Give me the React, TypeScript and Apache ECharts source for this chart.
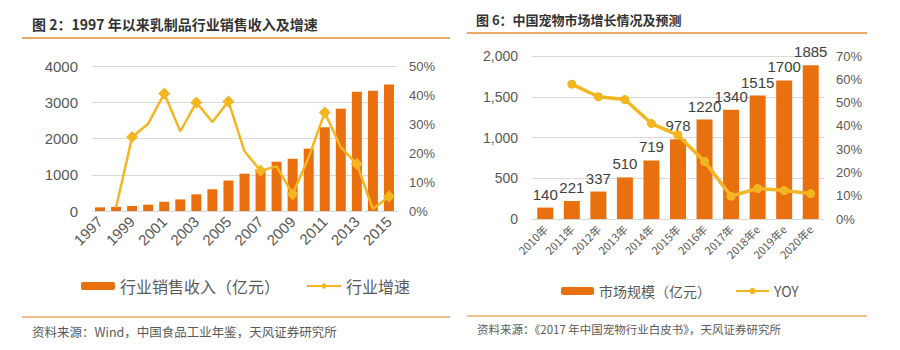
import React, { useEffect, useRef } from "react";
import * as echarts from "echarts";

const leftTitle = "图 2：1997 年以来乳制品行业销售收入及增速";
const rightTitle = "图 6：中国宠物市场增长情况及预测";
const leftSource = "资料来源：Wind，中国食品工业年鉴，天风证券研究所";
const rightSource = "资料来源：《2017 年中国宠物行业白皮书》，天风证券研究所";

const dairyYears = ["1997","1998","1999","2000","2001","2002","2003","2004","2005","2006","2007","2008","2009","2010","2011","2012","2013","2014","2015"];
const dairyRevenue = [100,115,135,175,255,320,460,600,840,1030,1150,1360,1440,1720,2310,2820,3290,3320,3490];
const dairyGrowth: (number | string)[] = ["-",1.2,25.5,30.1,40.5,27.5,37.4,30.7,37.8,20.6,13.9,15.4,5.8,18.5,34.0,22.0,16.2,0.7,5.0];

const petYears = ["2010年","2011年","2012年","2013年","2014年","2015年","2016年","2017年","2018年e","2019年e","2020年e"];
const petMarket = [140,221,337,510,719,978,1220,1340,1515,1700,1885];
const petYoy: (number | string)[] = ["-",57.9,52.5,51.3,41.0,36.0,24.7,9.8,13.1,12.2,10.9];

const FONT = "'Liberation Sans', 'Noto Sans CJK SC', sans-serif";
const CJK = "'Noto Sans CJK SC', sans-serif";
const GRAY = "#595959";
const BAR = "#E8700F";
const LINE = "#F4B523";
const RULE = "#EBA765";

export default function App() {
  const ref = useRef<HTMLDivElement>(null);
  useEffect(() => {
    if (!ref.current) return;
    const chart = echarts.init(ref.current, undefined, { renderer: "svg" });
    const axisLabel = { color: GRAY, fontSize: 14, fontFamily: FONT };
    chart.setOption({
      animation: false,
      backgroundColor: "#ffffff",
      textStyle: { fontFamily: FONT },
      grid: [
        { left: 92, width: 305, top: 66, height: 145 },
        { left: 532, width: 292, top: 56, height: 163 },
      ],
      xAxis: [
        {
          gridIndex: 0, type: "category", data: dairyYears,
          axisTick: { show: false },
          axisLine: { lineStyle: { color: "#D9D9D9" } },
          axisLabel: { ...axisLabel, fontSize: 15, rotate: 45, interval: 1, margin: 8 },
        },
        {
          gridIndex: 1, type: "category", data: petYears,
          axisTick: { show: false },
          axisLine: { lineStyle: { color: "#D9D9D9" } },
          axisLabel: { color: GRAY, fontSize: 11, fontFamily: CJK, rotate: 45, interval: 0, margin: 8 },
        },
      ],
      yAxis: [
        {
          gridIndex: 0, type: "value", min: 0, max: 4000, interval: 1000,
          axisLabel: { ...axisLabel, fontSize: 15, margin: 14, formatter: (v: number) => String(v) },
          splitLine: { lineStyle: { color: "#D9D9D9" } },
        },
        {
          gridIndex: 0, type: "value", min: 0, max: 50, interval: 10,
          axisLabel: { ...axisLabel, fontSize: 13, formatter: "{value}%", margin: 12 },
          splitLine: { show: false },
        },
        {
          gridIndex: 1, type: "value", min: 0, max: 2000, interval: 500,
          axisLabel: {
            ...axisLabel, fontSize: 14, margin: 14,
            formatter: (v: number) => v.toLocaleString("en-US"),
          },
          splitLine: { lineStyle: { color: "#D9D9D9" } },
        },
        {
          gridIndex: 1, type: "value", min: 0, max: 70, interval: 10,
          axisLabel: { ...axisLabel, fontSize: 13, formatter: "{value}%", margin: 12 },
          splitLine: { show: false },
        },
      ],
      legend: [
        {
          data: ["行业销售收入（亿元）", "行业增速"],
          left: 76, top: 273,
          itemWidth: 34, itemHeight: 8, itemGap: 26,
          textStyle: { color: GRAY, fontSize: 16, fontFamily: CJK },
        },
        {
          data: ["市场规模（亿元）", "YOY"],
          left: 556, top: 279,
          itemWidth: 33, itemHeight: 8, itemGap: 24,
          textStyle: { color: GRAY, fontSize: 14, fontFamily: CJK },
        },
      ],
      series: [
        {
          name: "行业销售收入（亿元）", type: "bar", xAxisIndex: 0, yAxisIndex: 0,
          data: dairyRevenue, barWidth: 10, itemStyle: { color: BAR },
        },
        {
          name: "行业增速", type: "line", xAxisIndex: 0, yAxisIndex: 1,
          data: dairyGrowth, symbol: "diamond", symbolSize: 12,
          lineStyle: { color: LINE, width: 2.5 }, itemStyle: { color: LINE },
        },
        {
          name: "市场规模（亿元）", type: "bar", xAxisIndex: 1, yAxisIndex: 2,
          data: petMarket, barWidth: 16, itemStyle: { color: BAR },
          label: { show: true, position: "top", color: "#404040", fontSize: 15, fontFamily: FONT, distance: 6 },
        },
        {
          name: "YOY", type: "line", xAxisIndex: 1, yAxisIndex: 3,
          data: petYoy, symbol: "circle", symbolSize: 9,
          lineStyle: { color: LINE, width: 3.5 }, itemStyle: { color: LINE },
        },
      ],
      graphic: [
        { type: "text", left: 32, top: 17, style: { text: leftTitle, fill: "#333333", font: `bold 14px ${CJK}` } },
        { type: "line", shape: { x1: 22, y1: 38, x2: 450, y2: 38 }, style: { stroke: RULE, lineWidth: 2 } },
        { type: "text", left: 476, top: 13, style: { text: rightTitle, fill: "#333333", font: `bold 13px ${CJK}` } },
        { type: "line", shape: { x1: 467, y1: 33, x2: 867, y2: 33 }, style: { stroke: RULE, lineWidth: 2 } },
        { type: "line", shape: { x1: 22, y1: 317, x2: 450, y2: 317 }, style: { stroke: RULE, lineWidth: 1.5 } },
        { type: "line", shape: { x1: 467, y1: 316, x2: 867, y2: 316 }, style: { stroke: RULE, lineWidth: 1.5 } },
        { type: "text", left: 32, top: 325, style: { text: leftSource, fill: GRAY, font: `12.5px ${CJK}` } },
        { type: "text", left: 477, top: 323, style: { text: rightSource, fill: GRAY, font: `11.5px ${CJK}` } },
      ],
    });
    return () => chart.dispose();
  }, []);
  return <div ref={ref} style={{ position: "absolute", left: 0, top: 0, width: 900, height: 350 }} />;
}
